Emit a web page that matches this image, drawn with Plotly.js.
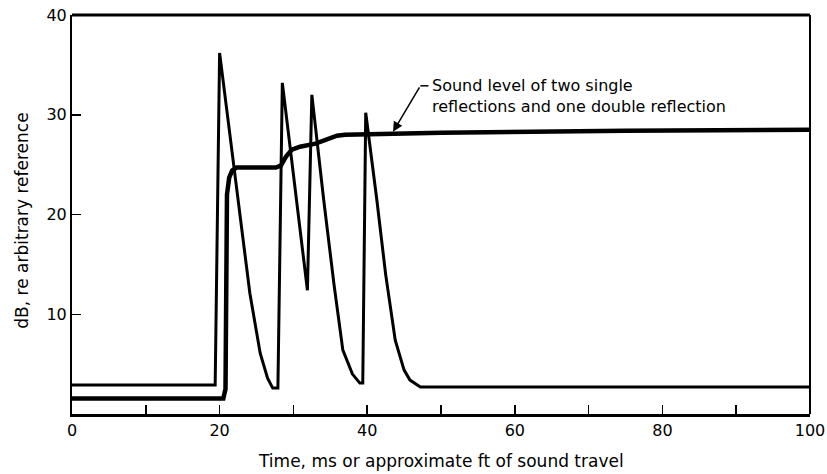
<!DOCTYPE html>
<html><head><meta charset="utf-8">
<script src="https://cdn.plot.ly/plotly-3.0.1.min.js"></script>
<style>html,body{margin:0;padding:0;background:#fff}#chart{width:827px;height:474px}</style>
</head><body><div id="chart"></div>
<script>
// Direct-sound + reflections (peaky trace)
const timeA  = [0, 19.4, 20.0, 21.8, 23.0, 24.1, 25.5, 26.5, 27.2, 27.9, 28.5, 30.4, 31.9, 32.5, 34.1, 35.5, 36.7, 38.0, 39.0, 39.4, 39.8, 41.3, 42.5, 43.8, 45.0, 45.8, 47.2, 100];
const levelA = [2.9, 2.9, 36.2, 25.5, 18.3, 12.1, 6.1, 3.6, 2.6, 2.6, 33.2, 21.5, 12.4, 32.0, 21.5, 13.0, 6.4, 4.0, 3.1, 3.1, 30.2, 21.5, 14.0, 7.4, 4.4, 3.4, 2.7, 2.7];
// Integrated sound level (thick trace)
const timeB  = [0, 20.5, 20.8, 21.0, 21.3, 21.7, 22.3, 27.6, 28.3, 29.0, 29.8, 30.9, 33.0, 34.2, 35.0, 35.9, 37.0, 50, 75, 100];
const levelB = [1.55, 1.55, 2.5, 22.0, 23.7, 24.4, 24.7, 24.7, 24.9, 25.8, 26.5, 26.8, 27.1, 27.4, 27.7, 27.9, 28.0, 28.2, 28.4, 28.5];
const xTickVals = [0, 10, 20, 30, 40, 50, 60, 70, 80, 90, 100];
const xTickText = ['0', '', '20', '', '40', '', '60', '', '80', '', '100'];
const yTickVals = [10, 20, 30, 40];
const yTickText = ['10', '20', '30', '40'];
const xTitle = 'Time, ms or approximate ft of sound travel';
const yTitle = 'dB, re arbitrary reference';
const noteText = 'Sound level of two single<br>reflections and one double reflection';

const FONT = 'DejaVu Sans, sans-serif';
const traces = [
  {x: timeA, y: levelA, mode: 'lines', line: {color: '#000', width: 3}, hoverinfo: 'skip'},
  {x: timeB, y: levelB, mode: 'lines', line: {color: '#000', width: 4.5}, hoverinfo: 'skip'}
];
const layout = {
  width: 827, height: 474,
  margin: {l: 72, r: 17, t: 15, b: 60},
  paper_bgcolor: '#fff', plot_bgcolor: '#fff',
  showlegend: false,
  font: {family: FONT, color: '#000', size: 16},
  xaxis: {
    range: [0, 100], showgrid: false, zeroline: false,
    showline: true, linecolor: '#000', linewidth: 3,
    ticks: 'inside', ticklen: 9, tickwidth: 1.5, tickcolor: '#000',
    tickvals: xTickVals, ticktext: xTickText,
    tickfont: {family: FONT, size: 16},
    automargin: false
  },
  yaxis: {
    range: [0, 40], showgrid: false, zeroline: false,
    showline: true, linecolor: '#000', linewidth: 2,
    ticks: 'inside', ticklen: 9, tickwidth: 1.5, tickcolor: '#000',
    tickvals: yTickVals, ticktext: yTickText,
    tickfont: {family: FONT, size: 16},
    automargin: false
  },
  shapes: [
    {type: 'line', xref: 'paper', yref: 'paper', x0: 0, x1: 1, y0: 1, y1: 1, line: {color: '#000', width: 3}},
    {type: 'line', xref: 'paper', yref: 'paper', x0: 1, x1: 1, y0: 0, y1: 1, line: {color: '#000', width: 2}},
    {type: 'line', xref: 'x', yref: 'y', x0: 47.2, x1: 48.3, y0: 32.9, y1: 32.9, line: {color: '#000', width: 1.5}}
  ],
  annotations: [
    {x: 43.5, y: 28.3, xref: 'x', yref: 'y', ax: 47.2, ay: 32.9, axref: 'x', ayref: 'y',
     showarrow: true, arrowhead: 2, arrowsize: 1.3, arrowwidth: 1.5, arrowcolor: '#000', text: ''},
    {x: 48.5, y: 31.85, xref: 'x', yref: 'y', xanchor: 'left', yanchor: 'middle', align: 'left',
     showarrow: false, text: noteText, font: {family: FONT, size: 16, color: '#000'}},
    {x: 0.5, y: -0.118, xref: 'paper', yref: 'paper', xanchor: 'center', yanchor: 'middle',
     showarrow: false, text: xTitle, font: {family: FONT, size: 17, color: '#000'}},
    {x: -0.068, y: 0.484, xref: 'paper', yref: 'paper', xanchor: 'center', yanchor: 'middle',
     textangle: -90, showarrow: false, text: yTitle, font: {family: FONT, size: 17, color: '#000'}}
  ]
};
Plotly.newPlot('chart', traces, layout, {staticPlot: true, displayModeBar: false});
</script>
</body></html>
